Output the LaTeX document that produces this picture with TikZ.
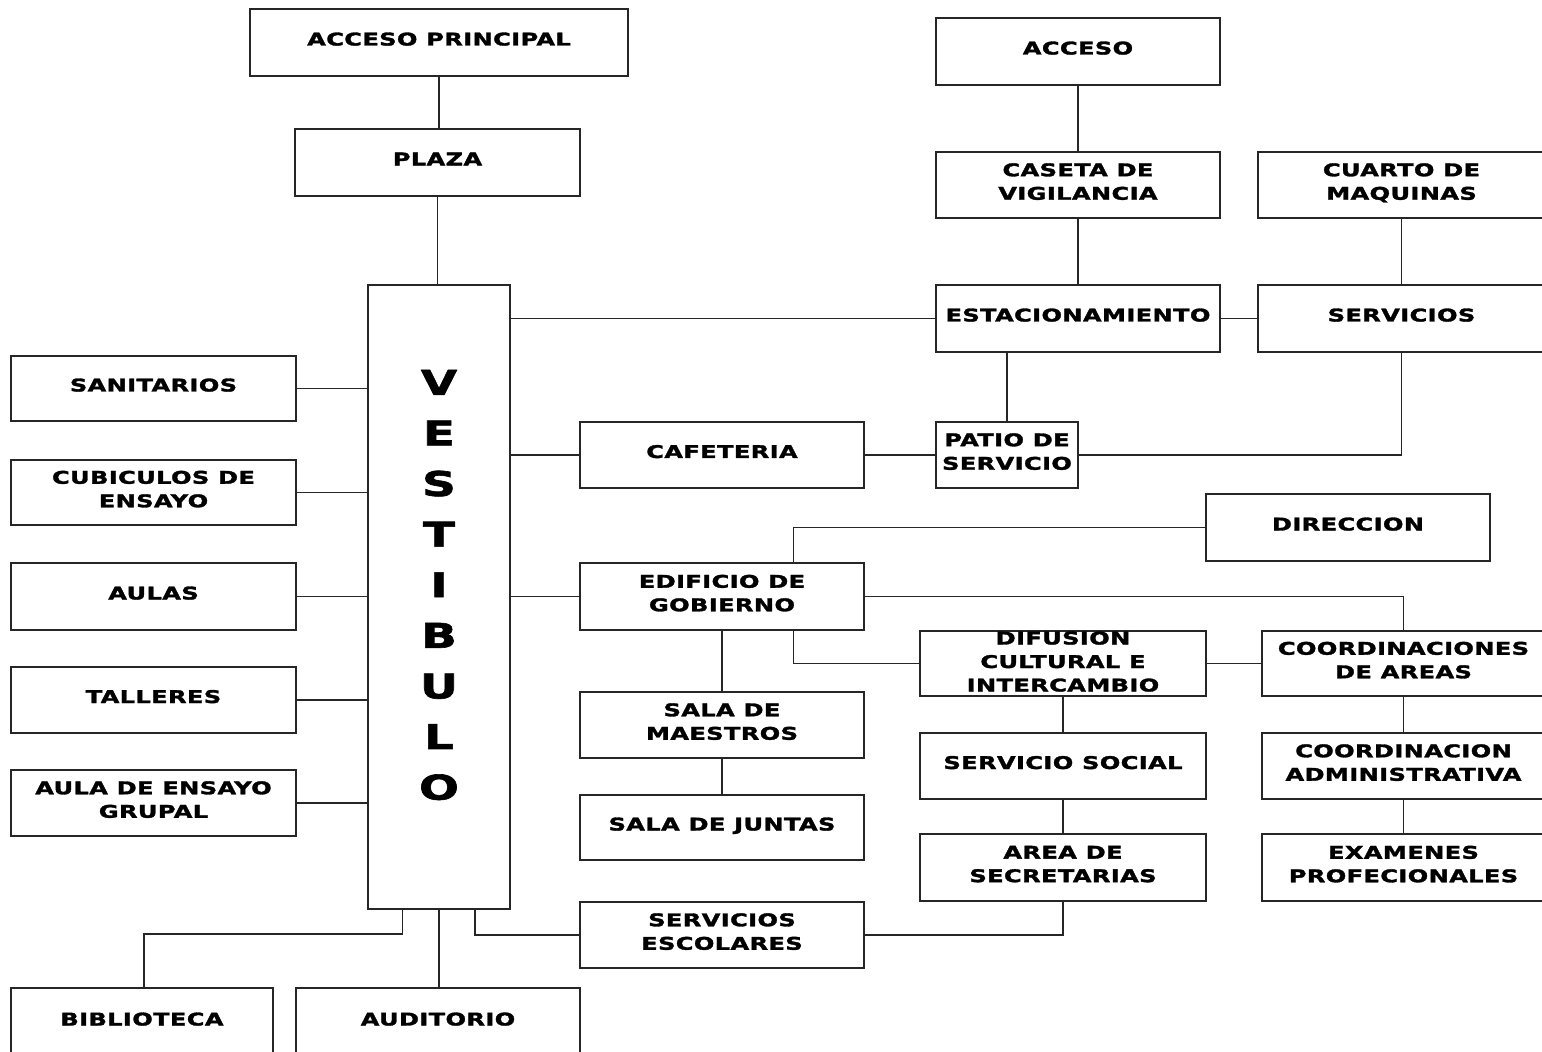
\documentclass[tikz,border=0pt]{standalone}
\usepackage{fontspec}
\setmainfont{DejaVu Sans}[FakeStretch=1.38, LetterSpace=2, BoldFeatures={FakeBold=1.8}]
\usetikzlibrary{calc}
\begin{document}
\begin{tikzpicture}[x=1pt,y=-1pt,
  box/.style={draw=black!85, line width=1.6pt, align=center, inner sep=0pt, text depth=7pt,
    font=\bfseries\fontsize{17.5}{23.5}\selectfont},
  wire/.style={draw=black!85, line width=1.6pt},
  std/.style={box, minimum width=284, minimum height=66}]
\clip (0,0) rectangle (1542,1052);
\fill[white] (0,0) rectangle (1542,1052);
% left column
\node[box, minimum width=378, minimum height=67] (accp) at (439,42.5) {ACCESO PRINCIPAL};
\node[std, minimum width=285, minimum height=67] (plaza) at (437.5,162.5) {PLAZA};
\node[box, minimum width=142, minimum height=624, text depth=0pt,
  label={[font=\bfseries\fontsize{34}{50.6}\selectfont, align=center, yshift=12]center:V\\E\\S\\T\\I\\B\\U\\L\\O}] (vest) at (439,597) {};
\node[std, minimum width=285, minimum height=65] (sanit) at (153.5,388.5) {SANITARIOS};
\node[std, minimum width=285, minimum height=65] (cubic) at (153.5,492.5) {CUBICULOS DE\\ENSAYO};
\node[std, minimum width=285, minimum height=67] (aulas) at (153.5,596.5) {AULAS};
\node[std, minimum width=285] (talle) at (153.5,700) {TALLERES};
\node[std, minimum width=285] (aulaeg) at (153.5,803) {AULA DE ENSAYO\\GRUPAL};
\node[box, minimum width=262, minimum height=82, text depth=20pt] (bibl) at (142,1029) {BIBLIOTECA};
\node[box, minimum width=284, minimum height=82, text depth=20pt] (audit) at (438,1029) {AUDITORIO};
% right part
\node[std, minimum height=67] (acceso) at (1078,51.5) {ACCESO};
\node[std] (caseta) at (1078,185) {CASETA DE\\VIGILANCIA};
\node[std, minimum width=287] (cuarto) at (1401.5,185) {CUARTO DE\\MAQUINAS};
\node[std, minimum height=67] (estac) at (1078,318.5) {ESTACIONAMIENTO};
\node[std, minimum width=287, minimum height=67] (serv) at (1401.5,318.5) {SERVICIOS};
\node[std] (cafe) at (722,455) {CAFETERIA};
\node[box, minimum width=142, minimum height=66] (patio) at (1007,455) {PATIO DE\\SERVICIO};
\node[std, minimum height=67] (dir) at (1348,527.5) {DIRECCION};
\node[std, minimum height=67] (edif) at (722,596.5) {EDIFICIO DE\\GOBIERNO};
\node[std, minimum width=286, minimum height=65, text depth=4pt] (difu) at (1063,663.5) {DIFUSION\\CULTURAL E\\INTERCAMBIO};
\node[std, minimum width=283, minimum height=65] (coords) at (1403.5,663.5) {COORDINACIONES\\DE AREAS};
\node[std] (salam) at (722,725) {SALA DE\\MAESTROS};
\node[std, minimum height=65] (salaj) at (722,827.5) {SALA DE JUNTAS};
\node[std, minimum width=286] (servsoc) at (1063,766) {SERVICIO SOCIAL};
\node[std, minimum width=283] (coordadm) at (1403.5,766) {COORDINACION\\ADMINISTRATIVA};
\node[std, minimum width=286, minimum height=67] (area) at (1063,867.5) {AREA DE\\SECRETARIAS};
\node[std, minimum width=283, minimum height=67] (exam) at (1403.5,867.5) {EXAMENES\\PROFECIONALES};
\node[std] (servesc) at (722,935) {SERVICIOS\\ESCOLARES};
% connectors
\draw[wire] (accp.south) -- (accp.south |- plaza.north);
\draw[wire] (plaza.south) -- (plaza.south |- vest.north);
\foreach \n in {sanit,cubic,aulas,talle,aulaeg}
  \draw[wire] (\n.east) -- (\n.east -| vest.west);
\draw[wire] (estac.west) -- (estac.west -| vest.east);
\draw[wire] (cafe.west) -- (cafe.west -| vest.east);
\draw[wire] (edif.west) -- (edif.west -| vest.east);
\draw[wire] (acceso.south) -- (caseta.north);
\draw[wire] (caseta.south) -- (estac.north);
\draw[wire] (cuarto.south) -- (serv.north);
\draw[wire] (estac.east) -- (serv.west);
\draw[wire] (patio.north |- estac.south) -- (patio.north);
\draw[wire] (serv.south) |- (patio.east);
\draw[wire] (cafe.east) -- (patio.west);
\draw[wire] ($(edif.north west)!0.75!(edif.north east)$) |- (dir.west);
\draw[wire] (edif.east) -| (coords.north);
\draw[wire] ($(edif.south west)!0.75!(edif.south east)$) |- (difu.west);
\draw[wire] (difu.east) -- (coords.west);
\draw[wire] (edif.south) -- (salam.north);
\draw[wire] (salam.south) -- (salaj.north);
\draw[wire] (difu.south) -- (servsoc.north);
\draw[wire] (servsoc.south) -- (area.north);
\draw[wire] (area.south) |- (servesc.east);
\draw[wire] (coords.south) -- (coordadm.north);
\draw[wire] (coordadm.south) -- (exam.north);
\draw[wire] ($(vest.south west)!0.245!(vest.south east)$) |- ($(bibl.north)+(2,-53)$) -- ($(bibl.north)+(2,0)$);
\draw[wire] (vest.south) -- (vest.south |- audit.north);
\draw[wire] ($(vest.south west)!0.75!(vest.south east)$) |- (servesc.west);
\end{tikzpicture}
\end{document}
